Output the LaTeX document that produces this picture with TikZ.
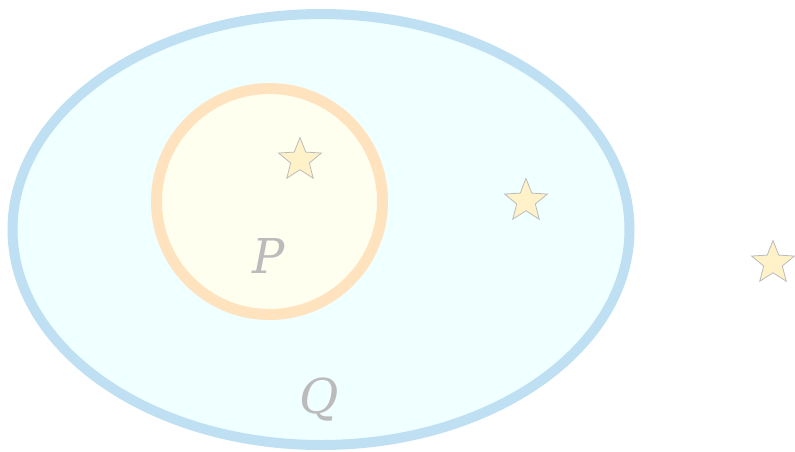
\documentclass[tikz,border=0pt]{standalone}
\usepackage{fontspec}
\setmainfont{DejaVu Serif}
\usetikzlibrary{shapes.geometric}
\definecolor{setQline}{HTML}{BEE0F2}
\definecolor{setQfill}{HTML}{F0FFFF}
\definecolor{setPline}{HTML}{FFE2BE}
\definecolor{setPfill}{HTML}{FFFFF0}
\definecolor{starfill}{HTML}{FFF2C8}
\definecolor{labelgray}{HTML}{BBBBBB}

\tikzset{
  elem/.style={star,star points=5,star point ratio=2.3,minimum size=45pt,
    inner sep=0pt,fill=starfill,draw=labelgray,line width=0.8pt},
  setlabel/.style={text=labelgray,anchor=base,inner sep=0pt,
    font=\fontsize{48}{48}\selectfont\itshape}
}

\begin{document}
\begin{tikzpicture}[x=1pt,y=-1pt]
  \useasboundingbox (0,0) rectangle (795,451);
  % outer set Q
  \draw[setQline,fill=setQfill,line width=10pt] (321,229.5) ellipse [x radius=308.5,y radius=215.5];
  % inner set P
  \draw[setPline,fill=setPfill,line width=11pt] (269.5,201.5) circle [radius=113];
  % labels
  \node[setlabel] (lblP) at (269,273) {P};
  \node[setlabel] (lblQ) at (319,413) {Q};
  % elements
  \node[elem] (inP) at (300,160) {};
  \node[elem] (inQ) at (526,201) {};
  \node[elem] (outside) at (773,263) {};
\end{tikzpicture}
\end{document}
